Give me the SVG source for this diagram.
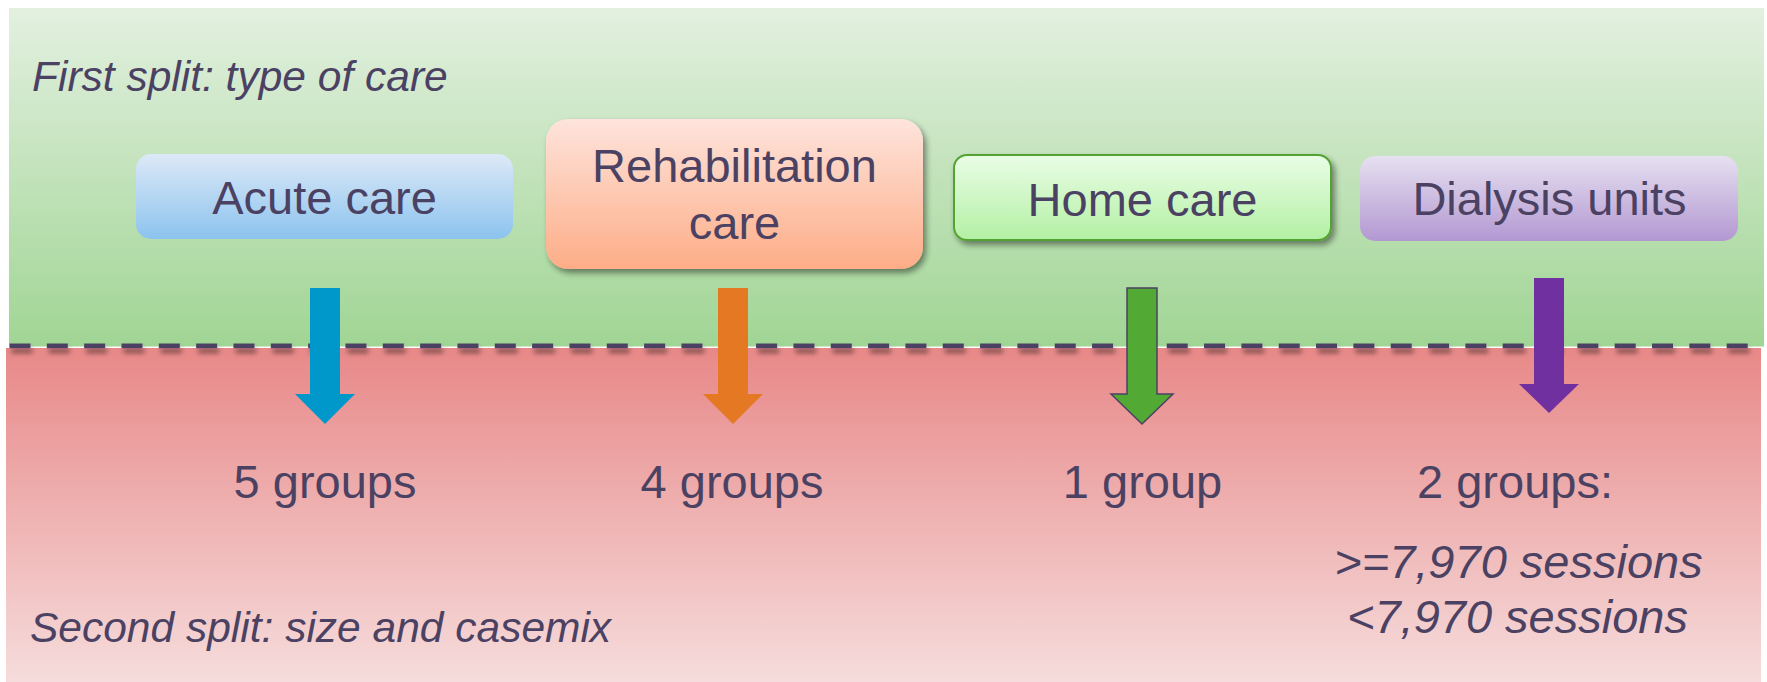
<svg xmlns="http://www.w3.org/2000/svg" width="1767" height="682" viewBox="0 0 1767 682">
  <defs>
    <linearGradient id="gGreen" x1="0" y1="0" x2="0" y2="1">
      <stop offset="0" stop-color="#e3f0e0"/>
      <stop offset="1" stop-color="#a0d594"/>
    </linearGradient>
    <linearGradient id="gRed" x1="0" y1="0" x2="0" y2="1">
      <stop offset="0" stop-color="#e88888"/>
      <stop offset="1" stop-color="#f6dcdc"/>
    </linearGradient>
    <linearGradient id="gAcute" x1="0" y1="0" x2="0" y2="1">
      <stop offset="0" stop-color="#dde9f7"/>
      <stop offset="1" stop-color="#8cc3ee"/>
    </linearGradient>
    <linearGradient id="gRehab" x1="0" y1="0" x2="0" y2="1">
      <stop offset="0" stop-color="#fee4dc"/>
      <stop offset="1" stop-color="#fdad87"/>
    </linearGradient>
    <linearGradient id="gHome" x1="0" y1="0" x2="0" y2="1">
      <stop offset="0" stop-color="#eafde6"/>
      <stop offset="1" stop-color="#b3f0a4"/>
    </linearGradient>
    <linearGradient id="gDial" x1="0" y1="0" x2="0" y2="1">
      <stop offset="0" stop-color="#e6e0f0"/>
      <stop offset="1" stop-color="#b398d2"/>
    </linearGradient>
    <filter id="shadow" x="-10%" y="-10%" width="125%" height="140%">
      <feGaussianBlur in="SourceAlpha" stdDeviation="3"/>
      <feOffset dx="3" dy="4" result="b"/>
      <feComponentTransfer><feFuncA type="linear" slope="0.45"/></feComponentTransfer>
      <feMerge><feMergeNode/><feMergeNode in="SourceGraphic"/></feMerge>
    </filter>
    <filter id="dashShadow" filterUnits="userSpaceOnUse" x="0" y="330" width="1767" height="40">
      <feGaussianBlur in="SourceAlpha" stdDeviation="2.5"/>
      <feOffset dx="2" dy="5" result="b"/>
      <feComponentTransfer><feFuncA type="linear" slope="0.45"/></feComponentTransfer>
      <feMerge><feMergeNode/><feMergeNode in="SourceGraphic"/></feMerge>
    </filter>
  </defs>
  <style>
    text { font-family: "Liberation Sans", Arial, sans-serif; fill: #4b4263; }
    .box { font-size: 47px; text-anchor: middle; }
    .lbl { font-size: 47px; text-anchor: middle; }
    .ital { font-style: italic; }
    .hdr { font-size: 42.5px; font-style: italic; }
  </style>

  <rect x="0" y="0" width="1767" height="682" fill="#ffffff"/>

  <g id="band-first">
    <rect x="9" y="8" width="1755" height="338.5" fill="url(#gGreen)"/>
    <text class="hdr" x="32" y="91">First split: type of care</text>
  </g>
  <g id="band-second">
    <rect x="6" y="348" width="1755" height="334" fill="url(#gRed)"/>
    <text class="hdr" x="30" y="642">Second split: size and casemix</text>
  </g>

  <g id="divider" filter="url(#dashShadow)">
    <line x1="9.5" y1="345.8" x2="1757" y2="345.8" stroke="#4b4263" stroke-width="4.8" stroke-dasharray="21 16.33"/>
  </g>

  <g id="node-acute">
    <rect x="136" y="154" width="377" height="85" rx="15" fill="url(#gAcute)"/>
    <text class="box" x="324.5" y="214">Acute care</text>
  </g>
  <g id="node-rehab">
    <rect x="546" y="119" width="377" height="150" rx="22" fill="url(#gRehab)" filter="url(#shadow)"/>
    <text class="box" x="734.5" y="182">Rehabilitation</text>
    <text class="box" x="734.5" y="239">care</text>
  </g>
  <g id="node-home">
    <rect x="954" y="155" width="377" height="85" rx="13" fill="url(#gHome)" stroke="#53a332" stroke-width="2" filter="url(#shadow)"/>
    <text class="box" x="1142.5" y="216">Home care</text>
  </g>
  <g id="node-dialysis">
    <rect x="1360" y="156" width="378" height="85" rx="15" fill="url(#gDial)"/>
    <text class="box" x="1549.5" y="215">Dialysis units</text>
  </g>

  <g id="connectors">
    <path d="M310,288 H340 V394 H355 L325,424 L295,394 H310 Z" fill="#0098cb"/>
    <path d="M718,288 H748 V394 H763 L733,424 L703,394 H718 Z" fill="#e47823"/>
    <path d="M1127,288 H1157 V394 H1173 L1142,424 L1111,394 H1127 Z" fill="#52a933" stroke="#4b4263" stroke-width="1.5"/>
    <path d="M1534,278 H1564 V384 H1579 L1549,413 L1519,384 H1534 Z" fill="#7030a0"/>
  </g>

  <g id="result-acute">
    <text class="lbl" x="325" y="498">5 groups</text>
  </g>
  <g id="result-rehab">
    <text class="lbl" x="732" y="498">4 groups</text>
  </g>
  <g id="result-home">
    <text class="lbl" x="1142.5" y="498">1 group</text>
  </g>
  <g id="result-dialysis">
    <text class="lbl" x="1515" y="498">2 groups:</text>
    <text class="lbl ital" x="1518.5" y="578">&gt;=7,970 sessions</text>
    <text class="lbl ital" x="1517.5" y="633">&lt;7,970 sessions</text>
  </g>
</svg>
